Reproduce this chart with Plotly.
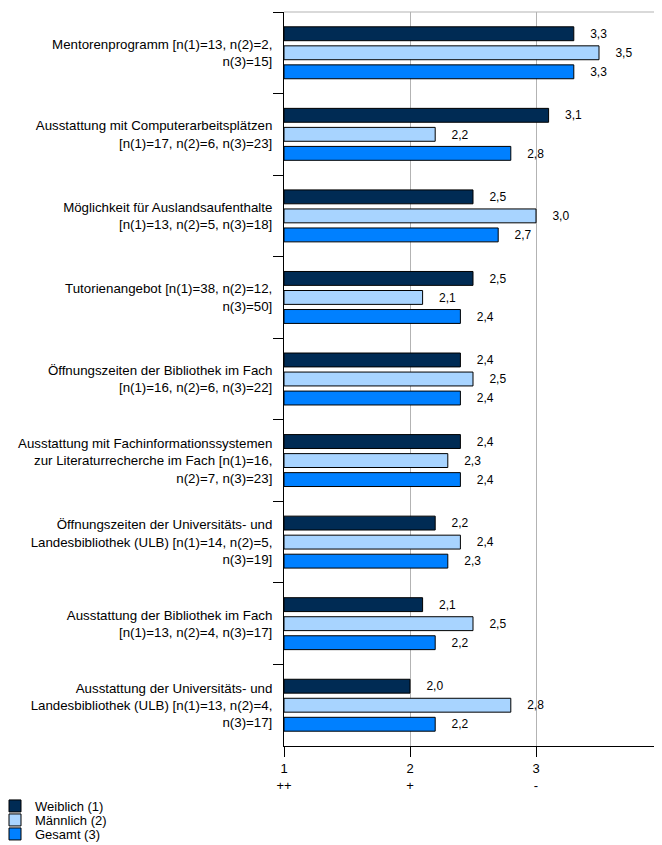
import plotly.graph_objects as go

categories = [
    "Mentorenprogramm [n(1)=13, n(2)=2,<br>n(3)=15]",
    "Ausstattung mit Computerarbeitsplätzen<br>[n(1)=17, n(2)=6, n(3)=23]",
    "Möglichkeit für Auslandsaufenthalte<br>[n(1)=13, n(2)=5, n(3)=18]",
    "Tutorienangebot [n(1)=38, n(2)=12,<br>n(3)=50]",
    "Öffnungszeiten der Bibliothek im Fach<br>[n(1)=16, n(2)=6, n(3)=22]",
    "Ausstattung mit Fachinformationssystemen<br>zur Literaturrecherche im Fach [n(1)=16,<br>n(2)=7, n(3)=23]",
    "Öffnungszeiten der Universitäts- und<br>Landesbibliothek (ULB) [n(1)=14, n(2)=5,<br>n(3)=19]",
    "Ausstattung der Bibliothek im Fach<br>[n(1)=13, n(2)=4, n(3)=17]",
    "Ausstattung der Universitäts- und<br>Landesbibliothek (ULB) [n(1)=13, n(2)=4,<br>n(3)=17]",
]
weiblich = [3.3, 3.1, 2.5, 2.5, 2.4, 2.4, 2.2, 2.1, 2.0]
maennlich = [3.5, 2.2, 3.0, 2.1, 2.5, 2.3, 2.4, 2.5, 2.8]
gesamt = [3.3, 2.8, 2.7, 2.4, 2.4, 2.4, 2.3, 2.2, 2.2]
series_names = ["Weiblich (1)", "Männlich (2)", "Gesamt (3)"]
tick_vals = [1, 2, 3, 4]
tick_text = ["1<br>++", "2<br>+", "3<br>-", "4<br>--"]

colors = ["#002b54", "#a8d4ff", "#0080ff"]
FONT = "Liberation Sans, Arial, sans-serif"
W, H = 662, 845
# page body has an 8px margin; compensate so the plot lands at the reference position
ML, MR, MT, MB = 276, 8, 4, 107
PW, PH = W - ML - MR, H - MT - MB
legend_ids = ["legend", "legend2", "legend3"]
legend_centers_px = [806, 820, 834]

fig = go.Figure()
for name, vals, col, lg in zip(series_names, [weiblich, maennlich, gesamt], colors, legend_ids):
    fig.add_trace(go.Bar(
        y=categories, x=[v - 1 for v in vals], base=1, orientation="h",
        name=name, legend=lg,
        marker=dict(color=col, line=dict(color="#000000", width=1)),
        text=["    " + f"{v:.1f}".replace(".", ",") for v in vals],
        textposition="outside", cliponaxis=False,
        textfont=dict(family=FONT, size=13, color="#000000"),
        hoverinfo="skip",
    ))

legend_style = {}
for lg, cy in zip(legend_ids, legend_centers_px):
    legend_style[lg] = dict(
        xref="paper", yref="paper",
        x=(-13 - ML) / PW, xanchor="left",
        y=1 - (cy - 8 - MT) / PH, yanchor="middle",
        font=dict(family=FONT, size=13, color="#000000"),
        bgcolor="rgba(0,0,0,0)", itemwidth=30,
    )

fig.update_layout(
    template="none",
    width=W, height=H,
    margin=dict(l=ML, r=MR, t=MT, b=MB, autoexpand=False),
    paper_bgcolor="white", plot_bgcolor="white",
    barmode="group", bargap=0.30, bargroupgap=0.27,
    font=dict(family=FONT, size=13, color="#000000"),
    showlegend=True,
    xaxis=dict(range=[1, 4], tickvals=tick_vals, ticktext=tick_text,
               showgrid=True, gridcolor="#b3b3b3", gridwidth=1,
               showline=True, linecolor="#000000", linewidth=1,
               ticks="outside", ticklen=10, tickcolor="#000000",
               zeroline=False, fixedrange=True, automargin=False),
    yaxis=dict(autorange="reversed", showline=True, linecolor="#000000",
               linewidth=1, ticks="outside", tickson="boundaries",
               ticklen=10, tickcolor="#000000", showgrid=False,
               ticklabelstandoff=8, tickfont=dict(family=FONT, size=13.3),
               zeroline=False, fixedrange=True, automargin=False),
    shapes=[dict(type="line", xref="paper", yref="paper", x0=0, x1=1,
                 y0=1, y1=1, line=dict(color="#b3b3b3", width=1))],
    **legend_style,
)

fig.write_html("out.html")
